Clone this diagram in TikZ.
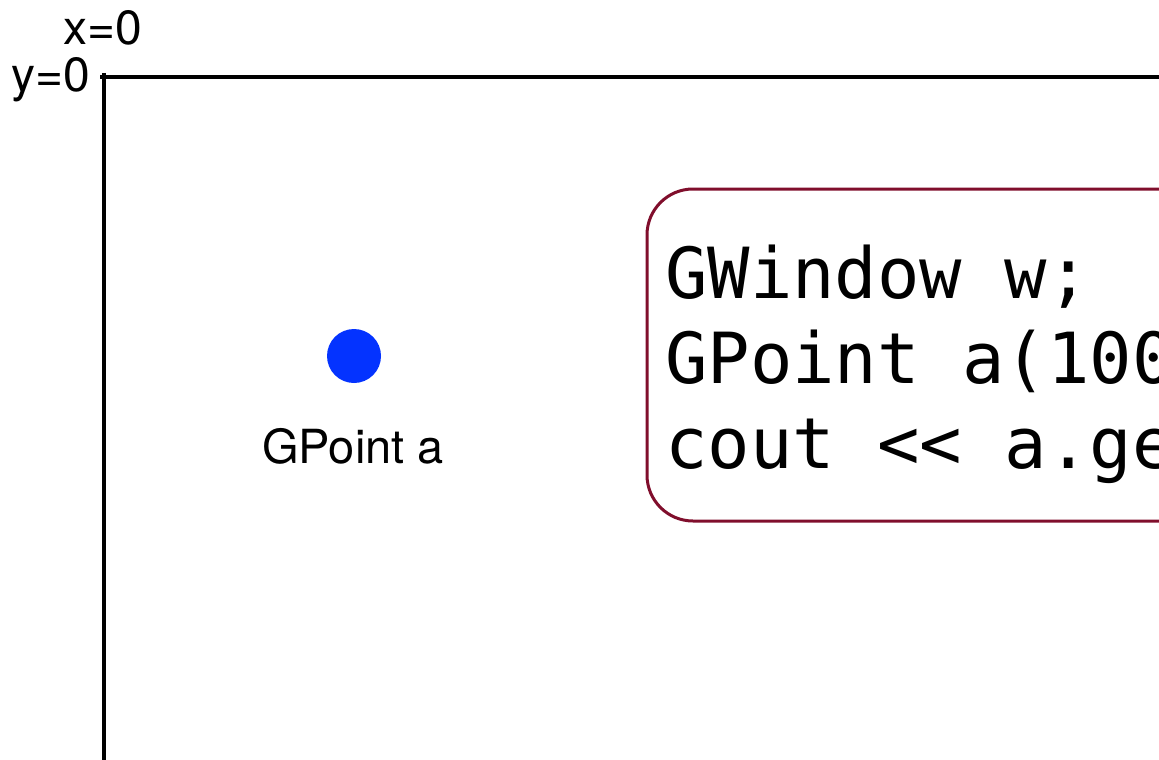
\documentclass[tikz,border=0pt]{standalone}
\usepackage{fontspec}
\setmainfont{TeX Gyre Heros}
\newfontfamily\codefont{DejaVu Sans Mono}
\definecolor{dotblue}{RGB}{4,51,255}
\definecolor{boxred}{RGB}{128,14,44}
\begin{document}
\begin{tikzpicture}[x=1pt,y=-1pt,
  axis/.style={line width=3.2pt,black},
  axlabel/.style={font=\fontsize{48}{50}\selectfont,inner sep=0pt},
  codeline/.style={font=\codefont\fontsize{70.5}{85}\selectfont,inner sep=0pt,anchor=base west},
  ptlabel/.style={font=\fontsize{47}{50}\selectfont,inner sep=0pt}]
\clip (0,0) rectangle (1159,760);
\fill[white] (0,0) rectangle (1159,760);
% axes
\coordinate (origin) at (104,77);
\coordinate (xend) at (1159,77);
\coordinate (yend) at (104,760);
\coordinate (hstart) at (100,77);
\draw[axis] (hstart) -- (xend);
\draw[axis] (104,73) -- (yend);
\node[axlabel] (xlab) at (103,28) {x=0};
\node[axlabel] (ylab) at (51,80) {y=0};
% point
\node[circle,fill=dotblue,minimum size=54pt,inner sep=0pt] (pa) at (354,356) {};
\node[ptlabel] (palab) at (353,446) {GPoint a};
% code box
\draw[boxred,line width=3pt,rounded corners=46pt] (647,189) rectangle (1230,521);
\node[codeline] (c1) at (665,298) {GWindow w;};
\node[codeline] (c2) at (665,383) {GPoint a(100};
\node[codeline] (c3) at (665,468) {cout << a.ge};
\end{tikzpicture}
\end{document}
